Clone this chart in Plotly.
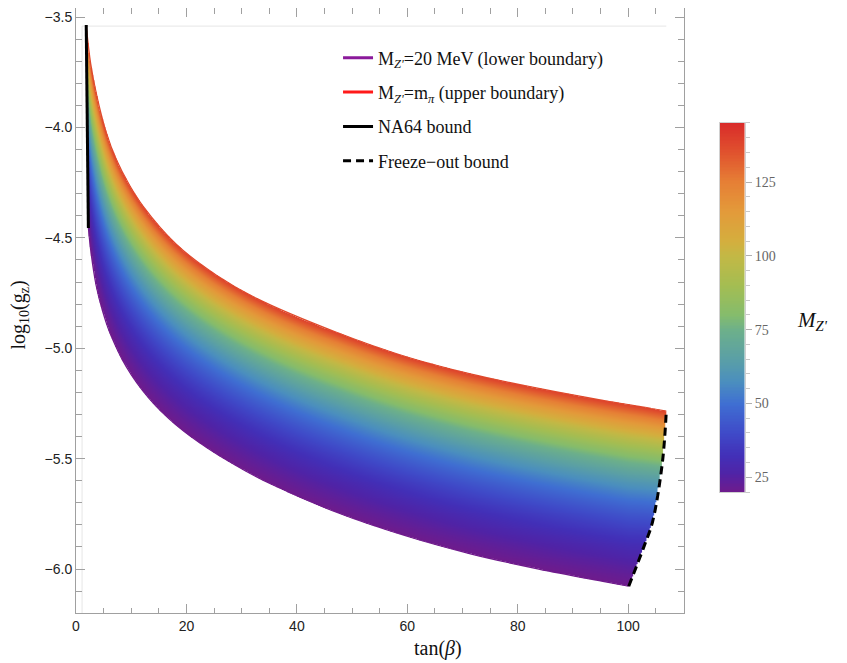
import numpy as np
import plotly.graph_objects as go

# values
# lower boundary, M_Z' = 20 MeV
tan_beta_low = [2.24, 2.73, 3.64, 4.85, 6.06, 9.09, 13.3, 18.2, 24.2, 30.3,
                35.3, 47.4, 59.5, 71.6, 83.8, 95.9, 100.1]
logg_low = [-4.455, -4.570, -4.715, -4.835, -4.925, -5.083, -5.229, -5.349,
            -5.459, -5.550, -5.615, -5.745, -5.848, -5.932, -6.000, -6.058, -6.078]

# upper boundary, M_Z' = m_pi
tan_beta_high = [1.85, 2.67, 3.76, 5.45, 7.27, 9.7, 12.1, 18.2, 25.5, 32.7,
                 47.4, 59.5, 71.6, 83.8, 95.9, 102.5, 106.9]
logg_high = [-3.536, -3.712, -3.855, -4.020, -4.143, -4.262, -4.355, -4.530,
             -4.670, -4.774, -4.930, -5.036, -5.117, -5.182, -5.238, -5.265, -5.285]

# NA64 bound (left edge)
na64_tan_beta = [1.85, 2.24]
na64_logg = [-3.536, -4.455]

# freeze-out bound (right edge)
fo_tan_beta = [100.1, 102.9, 104.4, 106.2, 106.9]
fo_logg = [-6.078, -5.895, -5.787, -5.515, -5.285]

M_LOW = 20.0
M_PION = 139.57
CB_MIN, CB_MAX = 20, 145
cb_ticks = [25, 50, 75, 100, 125]

# faint plot-range box of the region plot
BOX_X = 1.1
BOX_TOP = -3.541

rainbow = [
    [0.00, "#6f1b8c"],
    [0.05, "#5023a6"],
    [0.10, "#4230b8"],
    [0.16, "#3f4ac8"],
    [0.24, "#3f6fd2"],
    [0.30, "#4b8fbe"],
    [0.36, "#5a9fa6"],
    [0.44, "#6db08a"],
    [0.48, "#85bc6c"],
    [0.56, "#a4bd52"],
    [0.64, "#c3b845"],
    [0.68, "#d4ae3e"],
    [0.76, "#e39a3a"],
    [0.84, "#e67f35"],
    [0.92, "#e0522e"],
    [1.00, "#d92b2a"],
]

# colour band between the two boundaries (colour = M_Z')
xg = np.arange(1.8, 107.2, 0.2)
yg = np.arange(-6.12, -3.52, 0.004)
X, Y = np.meshgrid(xg, yg)
lo = np.interp(np.log10(X), np.log10(tan_beta_low), logg_low)
hi = np.interp(np.log10(X), np.log10(tan_beta_high), logg_high)
t = (Y - lo) / (hi - lo)
x_left = np.interp(Y, na64_logg[::-1], na64_tan_beta[::-1])
x_right = np.interp(Y, fo_logg, fo_tan_beta)
inside = (t >= 0) & (t <= 1) & (X >= x_left) & (X <= x_right)
Z = np.where(inside, M_LOW * (M_PION / M_LOW) ** t, np.nan).astype(np.float32)

fig = go.Figure()

fig.add_trace(go.Heatmap(
    x=xg, y=yg, z=Z, colorscale=rainbow, zmin=CB_MIN, zmax=CB_MAX,
    zsmooth="fast", showscale=False, hoverinfo="skip",
))

# boundary edges
fig.add_trace(go.Scatter(
    x=tan_beta_low, y=logg_low, mode="lines", showlegend=False,
    line=dict(color="#6f1b8c", width=1.2, shape="spline"),
))
fig.add_trace(go.Scatter(
    x=tan_beta_high, y=logg_high, mode="lines", showlegend=False,
    line=dict(color="#df4a2c", width=1.2, shape="spline"),
))

# bounds
fig.add_trace(go.Scatter(
    x=na64_tan_beta, y=na64_logg, mode="lines", showlegend=False,
    line=dict(color="black", width=3),
))
fig.add_trace(go.Scatter(
    x=fo_tan_beta, y=fo_logg, mode="lines", showlegend=False,
    line=dict(color="black", width=3, dash="8px,5px", shape="spline"),
))

# legend entries
legend_items = [
    ("M<sub><i>Z'</i></sub>=20 MeV (lower boundary)", "#8b1a9b", "solid"),
    ("M<sub><i>Z'</i></sub>=m<sub><i>π</i></sub> (upper boundary)", "#ff1a1a", "solid"),
    ("NA64 bound", "black", "solid"),
    ("Freeze−out bound", "black", "8px,5px"),
]
for i, (name, col, dash) in enumerate(legend_items):
    fig.add_trace(go.Scatter(
        x=[None], y=[None], mode="lines", name=name, legendgroup=f"g{i}",
        line=dict(color=col, width=3, dash=dash),
    ))

# colour bar drawn as its own small axis
cb_vals = np.linspace(CB_MIN, CB_MAX, 251)
fig.add_trace(go.Heatmap(
    x=[0], y=cb_vals, z=cb_vals[:, None], colorscale=rainbow,
    zmin=CB_MIN, zmax=CB_MAX, showscale=False, hoverinfo="skip",
    xaxis="x2", yaxis="y2",
))

fig.add_shape(type="line", x0=BOX_X, x1=fo_tan_beta[-1], y0=BOX_TOP, y1=BOX_TOP,
              line=dict(color="#e6e6e6", width=1), layer="below")
fig.add_shape(type="line", x0=BOX_X, x1=BOX_X, y0=-6.199, y1=BOX_TOP,
              line=dict(color="#e6e6e6", width=1), layer="below")

frame = "#a0a0a0"
tickfont = dict(family="Liberation Sans, Arial, sans-serif", size=14, color="#222")
serif = "Liberation Serif, Times New Roman, serif"

fig.update_layout(
    width=839, height=655,
    margin=dict(l=68, r=57, t=0, b=50),
    paper_bgcolor="white", plot_bgcolor="white",
    showlegend=True,
    legend=dict(
        x=0.367, y=0.948, xanchor="left", yanchor="top",
        font=dict(family=serif, size=18, color="#111"),
        bgcolor="rgba(0,0,0,0)", tracegroupgap=8,
    ),
    xaxis=dict(
        domain=[0, 0.8515], range=[0, 110.1],
        tick0=0, dtick=20, ticks="inside", ticklen=9, tickcolor=frame,
        minor=dict(dtick=5, ticks="inside", ticklen=5.5, tickcolor=frame),
        showline=True, linecolor=frame, mirror="ticks",
        showgrid=False, zeroline=False, tickfont=tickfont,
    ),
    yaxis=dict(
        range=[-6.199, -3.459],
        tick0=-3.5, dtick=0.5, tickformat=".1f",
        ticks="inside", ticklen=9, tickcolor=frame,
        minor=dict(dtick=0.1, ticks="inside", ticklen=5.5, tickcolor=frame),
        showline=True, linecolor=frame, mirror="ticks",
        showgrid=False, zeroline=False, tickfont=tickfont,
    ),
    xaxis2=dict(
        domain=[0.9013, 0.937], anchor="y2", range=[-0.5, 0.5],
        showticklabels=False, ticks="", showgrid=False, zeroline=False,
        showline=True, linecolor="#d0d0d0", mirror=True,
    ),
    yaxis2=dict(
        domain=[0.2, 0.81], anchor="x2", range=[CB_MIN, CB_MAX], side="right",
        tickvals=cb_ticks, ticks="outside", ticklen=6, tickcolor="#b0b0b0",
        minor=dict(dtick=5, ticks="outside", ticklen=3.5, tickcolor="#c8c8c8"),
        showgrid=False, zeroline=False, showline=True, linecolor="#d0d0d0", mirror=True,
        tickfont=dict(family=serif, size=14, color="#666"),
    ),
    annotations=[
        dict(text="tan(<i>β</i>)", x=0.507, y=-0.0579, xref="paper", yref="paper",
             showarrow=False, xanchor="center", yanchor="middle",
             font=dict(family=serif, size=20, color="#111")),
        dict(text="log<sub>10</sub>(g<sub>z</sub>)", x=-0.079, y=0.4926,
             xref="paper", yref="paper", textangle=-90, showarrow=False,
             xanchor="center", yanchor="middle",
             font=dict(family=serif, size=20, color="#111")),
        dict(text="<i>M<sub>Z'</sub></i>", x=1.032, y=0.4826, xref="paper", yref="paper",
             showarrow=False, xanchor="center", yanchor="middle",
             font=dict(family=serif, size=21, color="#111")),
    ],
)

fig.write_html("out.html")
